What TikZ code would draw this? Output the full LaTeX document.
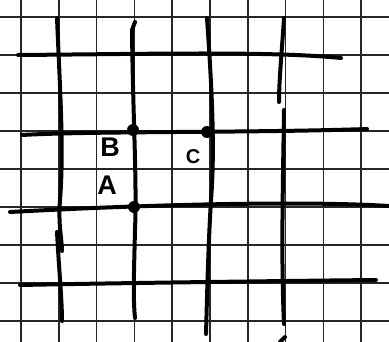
\documentclass[tikz,border=0pt]{standalone}
\usepackage{fontspec}
\setmainfont{Liberation Sans}
\begin{document}
\begin{tikzpicture}[x=1pt,y=-1pt,
  gridline/.style={line width=1.6pt, black!85},
  pen/.style={line width=4pt, line cap=round, line join=round, black},
  dotnode/.style={circle, fill=black, inner sep=0pt, minimum size=12pt},
  lab/.style={font=\bfseries\fontsize{27}{27}\selectfont, inner sep=0pt}]
\useasboundingbox (0,0) rectangle (389,342);
\fill[white] (0,0) rectangle (389,342);
% paper grid
\foreach \i in {0,...,9} \draw[gridline] ({21+37.8*\i},0) -- ({21+37.8*\i},342);
\foreach \j in {0,...,8} \draw[gridline] (0,{17+38*\j}) -- (389,{17+38*\j});
% hand-drawn horizontal lines
\draw[pen] (18,55) .. controls (150,54) and (270,51) .. (341,58);
\draw[pen] (22,135) .. controls (90,131) and (250,133) .. (367,129);
\draw[pen] (10,212) .. controls (120,206) and (290,200) .. (389,206);
\draw[pen] (20,285) .. controls (120,283) and (280,281) .. (376,280);
% hand-drawn vertical lines
\draw[pen] (57,18) .. controls (60,90) and (64,150) .. (60,200) .. controls (58,225) and (62,240) .. (62,251);
\draw[pen] (57,232) .. controls (59,270) and (62,300) .. (62,321);
\draw[pen] (135,22) -- (132,30) .. controls (133,120) and (137,180) .. (135,230) .. controls (134,270) and (133,300) .. (135,318);
\draw[pen] (207,18) .. controls (212,90) and (215,150) .. (211,200) .. controls (208,250) and (207,300) .. (206,334);
\draw[pen] (284,18) .. controls (282,50) and (279,80) .. (279,102);
\draw[pen] (284,110) .. controls (283,180) and (281,260) .. (284,324);
\draw[pen] (280,342) -- (285,337);
% points
\node[dotnode] (B) at (133,130) {};
\node[dotnode] (C) at (207,132) {};
\node[dotnode] (A) at (134,207) {};
% labels
\node[lab] (lB) at (110,147) {B};
\node[lab, font=\bfseries\fontsize{20}{20}\selectfont] (lC) at (193,157) {C};
\node[lab] (lA) at (107,185) {A};
\end{tikzpicture}
\end{document}
